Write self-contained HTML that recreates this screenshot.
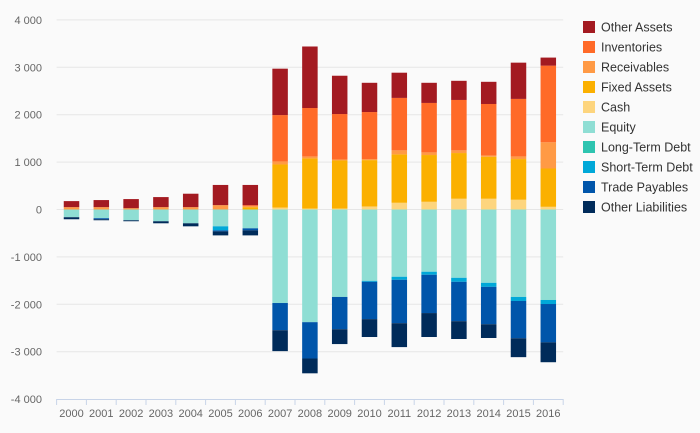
<!DOCTYPE html>
<html><head><meta charset="utf-8"><style>
html,body{margin:0;padding:0;background:#fafafa;}
svg{display:block;font-family:"Liberation Sans",sans-serif;}
</style></head><body>
<svg id="chart" width="700" height="433" viewBox="0 0 700 433">
<rect x="0" y="0" width="700" height="433" fill="#fafafa"/>
<g id="grid"></g>
<g id="bars"></g>
<g id="xaxis"></g>
<g id="legend"></g>
</svg>
<script>
const years = ["2000","2001","2002","2003","2004","2005","2006","2007","2008","2009","2010","2011","2012","2013","2014","2015","2016"];
const yTicks = [4000,3000,2000,1000,0,-1000,-2000,-3000,-4000];
const yTickLabels = ["4 000","3 000","2 000","1 000","0","-1 000","-2 000","-3 000","-4 000"];
// assets (stacked up, bottom to top)
const cash = [0,0,0,0,0,0,0,42,21,21,64,142,163,227,227,206,57];
const fixedAssets = [0,0,0,0,0,0,50,908,1057,1014,978,1021,986,964,886,858,808];
const receivables = [50,50,28,50,50,92,21,64,42,21,22,85,56,57,28,56,553];
const inventories = [0,0,0,0,0,0,21,978,1021,958,992,1106,1043,1063,1085,1213,1617];
const otherAssets = [127,149,192,212,283,426,426,979,1298,808,617,532,425,404,468,765,170];
// liabilities (stacked down, top to bottom)
const equity = [163,184,227,248,291,355,397,1973,2377,1845,1505,1419,1313,1441,1547,1845,1909];
const longTermDebt = [0,0,0,0,0,0,0,0,0,0,0,0,0,0,0,0,0];
const shortTermDebt = [0,0,0,0,0,85,0,0,0,0,21,64,64,85,85,85,85];
const tradePayables = [0,21,0,0,0,21,43,574,766,681,787,915,808,830,788,787,809];
const otherLiabilities = [43,22,21,43,64,85,106,441,313,313,377,505,505,376,291,398,419];

const NS="http://www.w3.org/2000/svg";
const x0=56.6, step=29.8, barW=15.5;
const yZero=209.5, pxPer=47.4/1000;
function y(v){return yZero - v*pxPer;}
function xc(i){return x0+step*(i+0.5);}
function mk(tag,attrs,parent){const e=document.createElementNS(NS,tag);for(const k in attrs)e.setAttribute(k,attrs[k]);parent.appendChild(e);return e;}
const grid=document.getElementById('grid'),bars=document.getElementById('bars'),xa=document.getElementById('xaxis'),lg=document.getElementById('legend');
yTicks.forEach((t,i)=>{
  if(t!==-4000){const l=mk('line',{x1:x0,x2:x0+step*years.length,y1:y(t),y2:y(t),stroke:'#e6e6e6','stroke-width':1},grid);
  
  }
  const tx=mk('text',{x:42,y:y(t)+4,'text-anchor':'end','font-size':'11',fill:'#666'},grid);
  tx.textContent=yTickLabels[i];
  
  
});
const pos=[["cash",cash,"#fdd57e"],["fixed-assets",fixedAssets,"#fbb000"],["receivables",receivables,"#ff9a45"],["inventories",inventories,"#ff6a28"],["other-assets",otherAssets,"#a31a21"]];
const neg=[["equity",equity,"#8fded4"],["long-term-debt",longTermDebt,"#2ec4b0"],["short-term-debt",shortTermDebt,"#00a8d8"],["trade-payables",tradePayables,"#0055aa"],["other-liabilities",otherLiabilities,"#002b5a"]];
years.forEach((yr,i)=>{
  let acc=0;
  pos.forEach(s=>{const v=s[1][i];if(v>0){const r=mk('rect',{x:xc(i)-barW/2,y:y(acc+v),width:barW,height:v*pxPer,fill:s[2]},bars);
    
    }acc+=v;});
  acc=0;
  neg.forEach(s=>{const v=s[1][i];if(v>0){const r=mk('rect',{x:xc(i)-barW/2,y:y(-acc),width:barW,height:v*pxPer,fill:s[2]},bars);
    
    }acc+=v;});
});
const ax=mk('line',{x1:x0,x2:x0+step*years.length,y1:399.5,y2:399.5,stroke:'#c8d4e8','stroke-width':1},xa);


for(let i=0;i<=years.length;i++){const t=mk('line',{x1:x0+step*i,x2:x0+step*i,y1:399,y2:405,stroke:'#c8d4e8','stroke-width':1},xa);
  
  }
years.forEach((yr,i)=>{const t=mk('text',{x:xc(i),y:417,'text-anchor':'middle','font-size':'11',fill:'#666'},xa);
  t.textContent=yr;
  
  });
const legendItems=[["Other Assets","#a31a21"],["Inventories","#ff6a28"],["Receivables","#ff9a45"],["Fixed Assets","#fbb000"],["Cash","#fdd57e"],["Equity","#8fded4"],["Long-Term Debt","#2ec4b0"],["Short-Term Debt","#00a8d8"],["Trade Payables","#0055aa"],["Other Liabilities","#002b5a"]];
legendItems.forEach((it,i)=>{
  const g=mk('g',{},lg);
  
  
  mk('rect',{x:583,y:21+i*20,width:12,height:12,fill:it[1]},g);
  const t=mk('text',{x:601,y:31.5+i*20,'font-size':'12.5',fill:'#333'},g);
  t.textContent=it[0];
});
</script>
</body></html>
